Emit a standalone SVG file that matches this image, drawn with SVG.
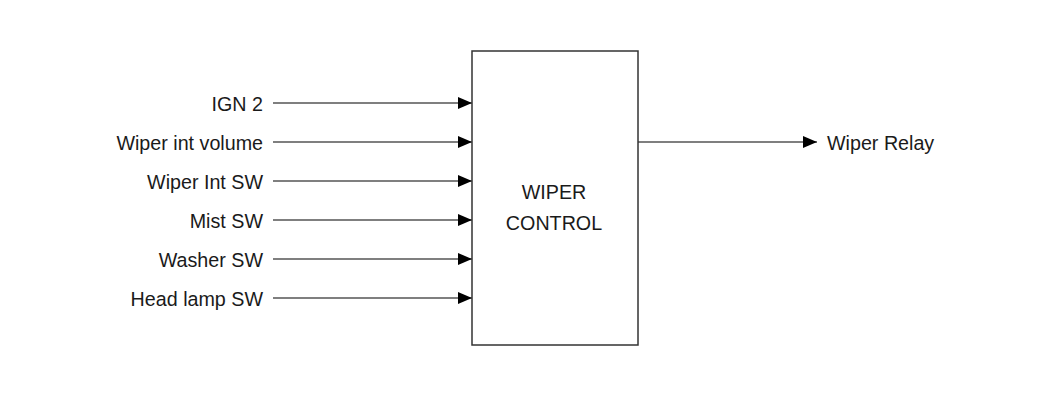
<svg xmlns="http://www.w3.org/2000/svg" width="1050" height="396" viewBox="0 0 1050 396">
<style>
  .lbl { font-family: "Liberation Sans", Arial, sans-serif; font-size: 19.7px; fill: #1a1a1a; }
  .ln { stroke: #555; stroke-width: 1.5; fill: none; }
  .box { fill: #fff; stroke: #333; stroke-width: 1.5; }
</style>
<defs>
  <marker id="arr" markerWidth="14" markerHeight="12" refX="14" refY="6" orient="auto" markerUnits="userSpaceOnUse">
    <path d="M0,0 L14,6 L0,12 Z" fill="#000"/>
  </marker>
</defs>
<rect width="1050" height="396" fill="#fff"/>
<g id="connectors">
  <line class="ln" x1="273" y1="103" x2="472" y2="103" marker-end="url(#arr)"/>
  <line class="ln" x1="273" y1="142" x2="472" y2="142" marker-end="url(#arr)"/>
  <line class="ln" x1="273" y1="181" x2="472" y2="181" marker-end="url(#arr)"/>
  <line class="ln" x1="273" y1="220" x2="472" y2="220" marker-end="url(#arr)"/>
  <line class="ln" x1="273" y1="259" x2="472" y2="259" marker-end="url(#arr)"/>
  <line class="ln" x1="273" y1="298" x2="472" y2="298" marker-end="url(#arr)"/>
  <line class="ln" x1="638" y1="142" x2="817" y2="142" marker-end="url(#arr)"/>
</g>
<g id="wiper-control">
  <rect class="box" x="472" y="51" width="166" height="294"/>
  <text class="lbl" x="554" y="199" text-anchor="middle">WIPER</text>
  <text class="lbl" x="554" y="230" text-anchor="middle">CONTROL</text>
</g>
<g id="ign2"><text class="lbl" x="263" y="111" text-anchor="end">IGN 2</text></g>
<g id="wiper-int-volume"><text class="lbl" x="263" y="150" text-anchor="end">Wiper int volume</text></g>
<g id="wiper-int-sw"><text class="lbl" x="263" y="189" text-anchor="end">Wiper Int SW</text></g>
<g id="mist-sw"><text class="lbl" x="263" y="228" text-anchor="end">Mist SW</text></g>
<g id="washer-sw"><text class="lbl" x="263" y="267" text-anchor="end">Washer SW</text></g>
<g id="head-lamp-sw"><text class="lbl" x="263" y="306" text-anchor="end">Head lamp SW</text></g>
<g id="wiper-relay"><text class="lbl" x="827" y="150">Wiper Relay</text></g>
</svg>
